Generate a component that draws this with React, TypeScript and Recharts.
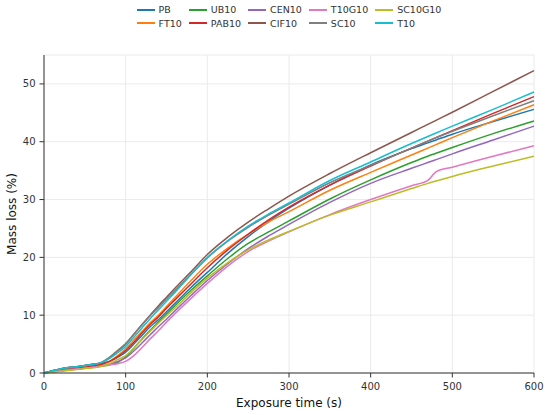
import { CartesianGrid, Label, Line, LineChart, XAxis, YAxis } from "recharts";

const TIME = [0, 20, 40, 60, 70, 80, 90, 100, 110, 120, 130, 140, 150, 160, 180, 200, 225, 250, 275, 300, 350, 400, 450, 470, 480, 500, 550, 600];

const PB = [0, 0.7, 1.1, 1.5, 1.7, 2.0, 2.7, 3.6, 5.0, 6.5, 8.0, 9.2, 10.6, 12.0, 14.8, 17.4, 20.7, 23.6, 26.2, 28.5, 32.5, 36.0, 38.8, 39.8, 40.3, 41.3, 43.5, 45.6];
const FT10 = [0, 0.5, 0.8, 1.2, 1.4, 2.0, 3.0, 4.2, 5.7, 7.2, 8.7, 10.0, 11.5, 13.0, 16.0, 18.8, 21.6, 24.0, 26.1, 27.9, 31.6, 34.7, 37.7, 38.9, 39.5, 40.7, 43.6, 46.4];
const UB10 = [0, 0.35, 0.7, 1.0, 1.2, 1.4, 1.8, 2.8, 4.3, 5.9, 7.4, 8.8, 10.2, 11.6, 14.3, 16.8, 19.8, 22.4, 24.4, 26.3, 30.1, 33.4, 36.4, 37.5, 38.0, 39.0, 41.4, 43.6];
const PAB10 = [0, 0.5, 0.8, 1.2, 1.5, 2.0, 2.8, 3.9, 5.3, 6.9, 8.4, 9.7, 11.2, 12.6, 15.4, 18.2, 21.3, 24.0, 26.5, 28.7, 32.5, 35.8, 38.9, 40.1, 40.7, 41.9, 44.9, 47.8];
const CEN10 = [0, 0.4, 0.7, 1.0, 1.2, 1.5, 2.0, 2.6, 3.8, 5.2, 6.6, 8.0, 9.3, 10.7, 13.4, 16.0, 18.9, 21.5, 23.7, 25.7, 29.5, 32.8, 35.4, 36.4, 36.9, 37.9, 40.3, 42.7];
const CIF10 = [0, 0.7, 1.1, 1.5, 1.8, 2.6, 3.8, 5.0, 6.7, 8.4, 10.0, 11.6, 13.1, 14.6, 17.5, 20.5, 23.5, 26.1, 28.4, 30.6, 34.5, 38.1, 41.6, 43.0, 43.7, 45.1, 48.7, 52.3];
const T10G10 = [0, 0.4, 0.7, 1.0, 1.2, 1.4, 1.6, 2.0, 3.0, 4.4, 5.9, 7.3, 8.8, 10.2, 12.9, 15.5, 18.5, 21.0, 22.8, 24.4, 27.4, 30.0, 32.4, 33.3, 34.8, 35.6, 37.5, 39.3];
const SC10 = [0, 0.7, 1.1, 1.5, 1.8, 2.7, 3.9, 5.1, 6.7, 8.3, 9.9, 11.3, 12.8, 14.2, 17.1, 19.9, 22.8, 25.2, 27.3, 29.2, 32.9, 35.9, 38.9, 40.1, 40.7, 41.8, 44.5, 47.1];
const SC10G10 = [0, 0.3, 0.6, 0.9, 1.1, 1.6, 2.3, 3.0, 4.3, 5.8, 7.2, 8.6, 9.9, 11.2, 13.9, 16.4, 19.1, 21.3, 23.0, 24.5, 27.3, 29.6, 31.9, 32.8, 33.2, 34.0, 35.8, 37.5];
const T10 = [0, 0.7, 1.1, 1.5, 1.8, 2.5, 3.5, 4.6, 6.2, 7.8, 9.4, 10.9, 12.4, 13.9, 17.0, 20.0, 22.9, 25.4, 27.5, 29.4, 33.3, 36.5, 39.7, 40.9, 41.5, 42.7, 45.6, 48.6];

const X_TICKS = [0, 100, 200, 300, 400, 500, 600];
const Y_TICKS = [0, 10, 20, 30, 40, 50];

// plot order follows the matplotlib default cycle
const SERIES = [
  { name: "PB", values: PB, color: "#1f77b4" },
  { name: "FT10", values: FT10, color: "#ff7f0e" },
  { name: "UB10", values: UB10, color: "#2ca02c" },
  { name: "PAB10", values: PAB10, color: "#d62728" },
  { name: "CEN10", values: CEN10, color: "#9467bd" },
  { name: "CIF10", values: CIF10, color: "#8c564b" },
  { name: "T10G10", values: T10G10, color: "#e377c2" },
  { name: "SC10", values: SC10, color: "#7f7f7f" },
  { name: "SC10G10", values: SC10G10, color: "#bcbd22" },
  { name: "T10", values: T10, color: "#17becf" },
];

const data = TIME.map((t, i) => {
  const row: Record<string, number> = { t };
  SERIES.forEach((s) => (row[s.name] = s.values[i]));
  return row;
});

const FONT = "DejaVu Sans, sans-serif";
const INK = "#333";

function LegendBox() {
  // two rows, filled column by column
  const cols: (typeof SERIES)[] = [];
  for (let i = 0; i < SERIES.length; i += 2) cols.push(SERIES.slice(i, i + 2));
  return (
    <div
      style={{
        position: "absolute",
        top: 3,
        left: 44,
        width: 490,
        display: "flex",
        justifyContent: "center",
        gap: 7,
        fontFamily: FONT,
        fontSize: 9.5,
        color: INK,
      }}
    >
      {cols.map((col, ci) => (
        <div key={ci} style={{ display: "flex", flexDirection: "column" }}>
          {col.map((s) => (
            <div key={s.name} style={{ display: "flex", alignItems: "center", height: 13.5 }}>
              <span style={{ width: 18, height: 1.6, background: s.color, marginRight: 4 }} />
              <span>{s.name}</span>
            </div>
          ))}
        </div>
      ))}
    </div>
  );
}

export default function App() {
  return (
    <div style={{ position: "absolute", left: 0, top: 0, width: 550, height: 415, background: "#fff" }}>
      <LineChart width={550} height={415} data={data} margin={{ top: 55, right: 16, bottom: 0, left: 0 }}>
        <CartesianGrid stroke="#e8e8e8" strokeWidth={0.9} />
        <XAxis
          dataKey="t"
          type="number"
          domain={[0, 600]}
          ticks={X_TICKS}
          height={42}
          tickSize={4.5}
          tickMargin={5}
          stroke={INK}
          tick={{ fill: INK, fontSize: 10, fontFamily: FONT }}
        >
          <Label value="Exposure time (s)" position="insideBottom" offset={8} style={{ fill: "#111", fontSize: 12, fontFamily: FONT }} />
        </XAxis>
        <YAxis
          type="number"
          domain={[0, 55]}
          ticks={Y_TICKS}
          width={44}
          tickSize={4.5}
          tickMargin={4}
          stroke={INK}
          tick={{ fill: INK, fontSize: 10, fontFamily: FONT }}
        >
          <Label
            value="Mass loss (%)"
            angle={-90}
            position="insideLeft"
            offset={12}
            style={{ fill: "#111", fontSize: 12, fontFamily: FONT, textAnchor: "middle" }}
          />
        </YAxis>
        {SERIES.map((s) => (
          <Line
            key={s.name}
            dataKey={s.name}
            type="monotone"
            stroke={s.color}
            strokeWidth={1.5}
            dot={false}
            isAnimationActive={false}
          />
        ))}
      </LineChart>
      <LegendBox />
    </div>
  );
}
